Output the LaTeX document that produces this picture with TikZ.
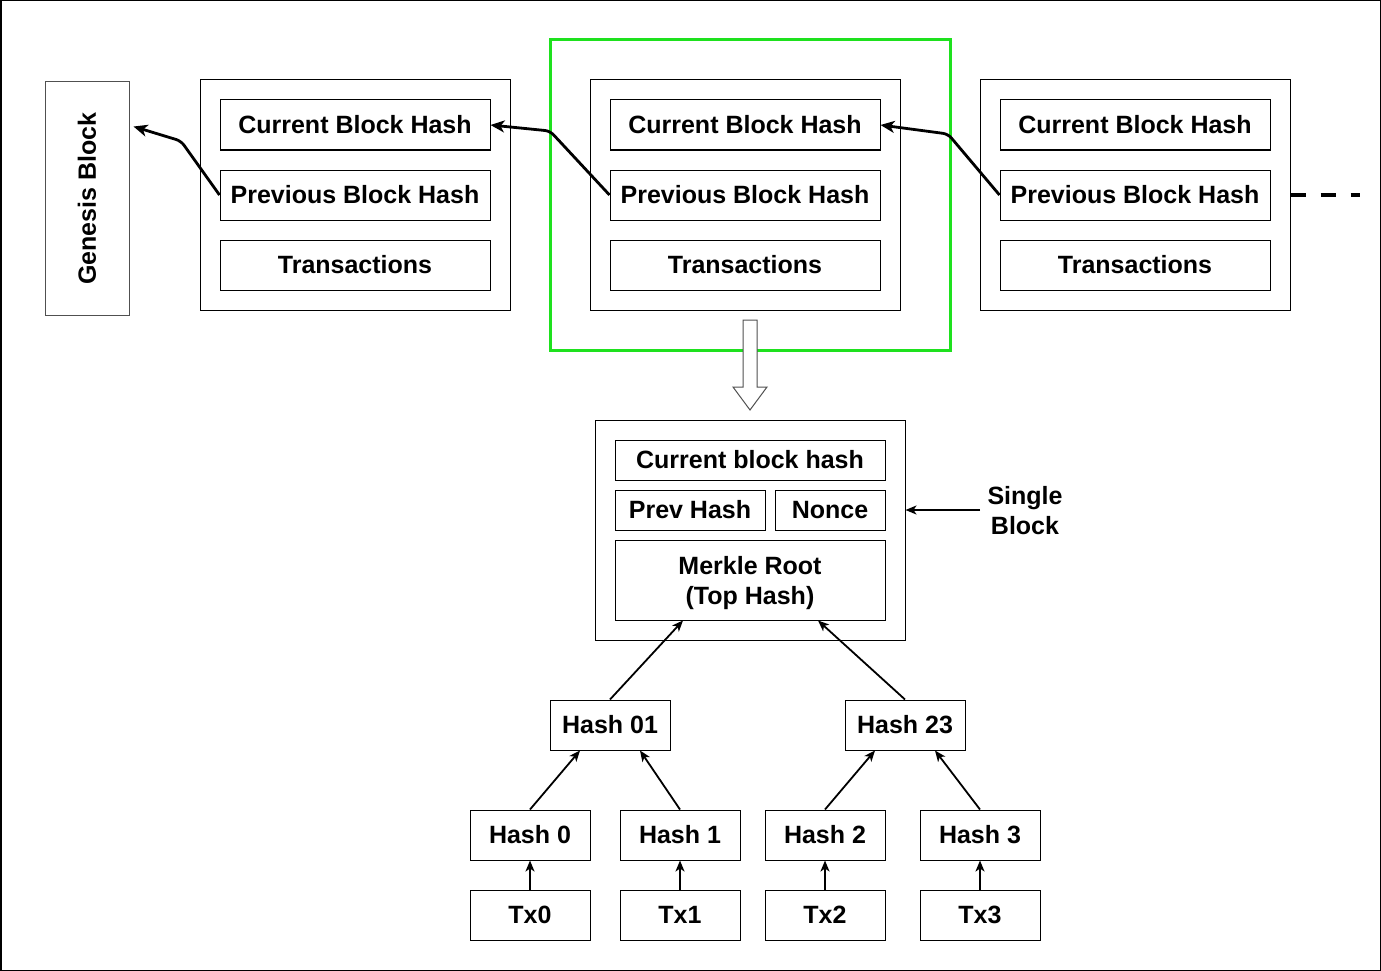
\documentclass[tikz,border=0pt]{standalone}
\usepackage{fontspec}
\setmainfont{Liberation Sans}
\usepackage{graphicx}
\usetikzlibrary{arrows.meta,calc}
\definecolor{selgreen}{RGB}{30,225,30}
\definecolor{edgegray}{RGB}{80,80,80}
\begin{document}
\begin{tikzpicture}[x=1pt,y=-1pt,
  lbl/.style={font=\fontsize{25}{30}\selectfont\bfseries, align=center},
  box/.style={draw, line width=1pt, inner sep=0pt, lbl},
  wide/.style={box, minimum width=270pt, minimum height=50pt},
  outer/.style={draw, line width=1pt, inner sep=0pt, minimum width=310pt},
  hbox/.style={box, minimum width=120pt, minimum height=50pt},
  bigarrow/.style={line width=2.8pt, rounded corners=5pt, -{Stealth[length=14pt,width=12pt,inset=4pt]}},
  smallarrow/.style={line width=1.8pt, -{Stealth[length=11pt,width=9pt,inset=3pt]}}
]
\useasboundingbox (0,0) rectangle (1381,971);
\draw[line width=1.5pt] (0.75,0.75) rectangle (1380.25,970.25);

% genesis
\node[draw=edgegray, line width=1pt, minimum width=84pt, minimum height=233pt, inner sep=0pt, lbl] (g) at (87,198.5) {\rotatebox{90}{Genesis Block}};

% selection frame
\node[draw=selgreen, line width=3pt, minimum width=400pt, minimum height=310pt, inner sep=0pt] (sel) at (750,195) {};

% blocks
\foreach \i/\x in {1/355,2/745,3/1135}{
  \node[outer, minimum height=230pt] (b\i) at (\x,195) {};
  \node[wide] (c\i) at (\x,125) {Current Block Hash};
  \node[wide] (p\i) at (\x,195) {Previous Block Hash};
  \node[wide] (t\i) at (\x,265) {Transactions};
}

\draw[bigarrow] (p1.west) -- (181,141) -- ($(g.north east)+(4,45)$);
\draw[bigarrow] (p2.west) -- (550,131) -- (c1.east);
\draw[bigarrow] (p3.west) -- (948,134) -- (c2.east);

\coordinate (dend) at (1360,195);
\draw[line width=4pt, dash pattern=on 15pt off 15pt] (b3.east) -- (dend);

% down block arrow
\draw[draw=edgegray, fill=white, line width=1pt] (743,320) -- (757,320) -- (757,387) -- (767,387) -- (750,410) -- (733,387) -- (743,387) -- cycle;

% single block
\node[outer, minimum height=220pt] (sb) at (750,530) {};
\node[box, minimum width=270pt, minimum height=40pt] (cbh) at (750,460) {Current block hash};
\node[box, minimum width=150pt, minimum height=40pt] (ph) at (690,510) {Prev Hash};
\node[box, minimum width=110pt, minimum height=40pt] (nc) at (830,510) {Nonce};
\node[box, minimum width=270pt, minimum height=80pt] (mr) at (750,580) {};
\node[lbl, inner sep=0pt] (mrt) at (750,583) {Merkle Root\\(Top Hash)};

\node[lbl, inner sep=0pt] (sbl) at (1025,511) {Single\\Block};
\coordinate (sbs) at (980,510);
\draw[smallarrow] (sbs) -- (sbs -| sb.east);

% merkle tree
\node[hbox] (h01) at (610,725) {Hash 01};
\node[hbox] (h23) at (905,725) {Hash 23};
\node[hbox] (h0) at (530,835) {Hash 0};
\node[hbox] (h1) at (680,835) {Hash 1};
\node[hbox] (h2) at (825,835) {Hash 2};
\node[hbox] (h3) at (980,835) {Hash 3};
\node[hbox] (x0) at (530,915) {Tx0};
\node[hbox] (x1) at (680,915) {Tx1};
\node[hbox] (x2) at (825,915) {Tx2};
\node[hbox] (x3) at (980,915) {Tx3};

\draw[smallarrow] (h01.north) -- ([xshift=-67pt]mr.south);
\draw[smallarrow] (h23.north) -- ([xshift=68pt]mr.south);
\draw[smallarrow] (h0.north) -- ([xshift=-30pt]h01.south);
\draw[smallarrow] (h1.north) -- ([xshift=30pt]h01.south);
\draw[smallarrow] (h2.north) -- ([xshift=-30pt]h23.south);
\draw[smallarrow] (h3.north) -- ([xshift=30pt]h23.south);
\foreach \i in {0,1,2,3}{
  \draw[smallarrow] (x\i.north) -- (h\i.south);
}
\end{tikzpicture}
\end{document}
